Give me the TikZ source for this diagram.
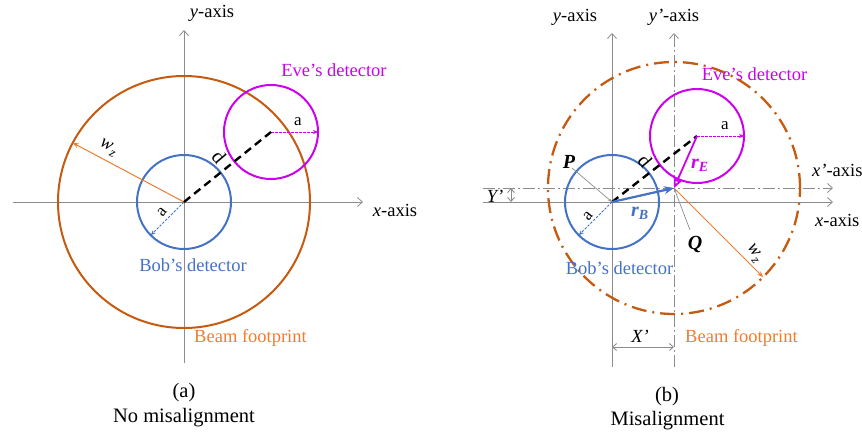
\documentclass[tikz,border=0pt]{standalone}
\usepackage{fontspec}
\setmainfont{Liberation Serif}
\usetikzlibrary{arrows.meta}
\definecolor{axgray}{RGB}{140,140,140}
\definecolor{beamc}{RGB}{197,90,17}
\definecolor{wzc}{RGB}{237,125,49}
\definecolor{bobc}{RGB}{68,114,196}
\definecolor{evec}{RGB}{204,0,238}
\newcommand{\wzlabel}{\textit{w}\kern0.5pt\raisebox{-4pt}{\fontsize{13}{14}\selectfont\textit{z}}}
\begin{document}
\begin{tikzpicture}[x=1pt,y=-1pt,
  lbl/.style={font=\fontsize{18.5}{20}\selectfont, inner sep=0pt},
  captxt/.style={font=\fontsize{20.5}{22}\selectfont, inner sep=0pt},
  sml/.style={font=\fontsize{17}{18}\selectfont, inner sep=0pt},
  bld/.style={font=\fontsize{20}{22}\selectfont\bfseries\itshape, inner sep=0pt},
  circ/.style={circle, draw, minimum size=#1, inner sep=0pt, outer sep=0pt, line width=2pt},
  axisline/.style={draw=axgray, line width=0.8pt, -{Straight Barb[length=5pt,width=9pt]}},
  axisdd/.style={axisline, dash pattern=on 12pt off 3pt on 2pt off 3pt},
  beamdd/.style={dash pattern=on 15pt off 6pt on 2pt off 6pt, line width=2.3pt},
  dline/.style={draw=black, line width=2.4pt, dash pattern=on 8pt off 5pt},
  aarrow/.style={line width=0.9pt, dash pattern=on 2.5pt off 1.5pt, -{Stealth[length=5pt,width=4pt]}},
  wzarrow/.style={draw=wzc, line width=1pt, -{Stealth[length=6pt,width=5pt]}},
  pointer/.style={draw=axgray, line width=0.7pt, -{Stealth[length=4pt,width=3pt]}},
  dimarrow/.style={draw=axgray, line width=0.9pt, {Straight Barb[length=4pt,width=7pt]}-{Straight Barb[length=4pt,width=7pt]}}
]
\useasboundingbox (0,0) rectangle (862,434);

% ================= (a) =================
\coordinate (O1) at (184,202);
\coordinate (E1c) at (271,132);
\coordinate (xl1) at (13,202);
\coordinate (xr1) at (363,202);
\coordinate (yb1) at (184,363);
\coordinate (yt1) at (184,30);
\draw[axisline] (xl1) -- (xr1);
\draw[axisline] (yb1) -- (yt1);

\node[circ=252pt, draw=beamc] (beam1) at (O1) {};
\node[circ=94pt, draw=bobc] (bob1) at (O1) {};
\node[circ=94pt, draw=evec] (eve1) at (E1c) {};

\draw[wzarrow] (O1) -- (beam1.152);
\draw[aarrow, draw=bobc] (O1) -- (bob1.225);
\draw[aarrow, draw=evec] (E1c) -- (eve1.east);
\draw[dline] (O1) -- (E1c);

\node[lbl] (ya) at (212,13) {\textit{y}-axis};
\node[lbl] (xa) at (395,210) {\textit{x}-axis};
\node[lbl, text=evec] (evt1) at (334,70) {Eve’s detector};
\node[lbl, text=bobc] (bobt1) at (193,265) {Bob’s detector};
\node[lbl, text=wzc] (beamt1) at (250.5,338) {Beam footprint};
\node[captxt] (capa) at (184,393) {(a)};
\node[captxt] (capa2) at (184,418) {No misalignment};
\node[lbl, rotate=-28] (wz1) at (108,148) {\wzlabel};
\node[lbl, rotate=-50, font=\fontsize{20}{22}\selectfont] (d1) at (219,157) {d};
\node[sml] (ae1) at (298,122) {a};
\node[sml, rotate=50] (ab1) at (162,212) {a};

% ================= (b) =================
\coordinate (O2) at (612,202);
\coordinate (Q) at (674,188);
\coordinate (E2c) at (697,136);
\coordinate (xl2) at (483,202);
\coordinate (xr2) at (833,202);
\coordinate (xpl2) at (483,188);
\coordinate (xpr2) at (833,188);
\coordinate (yb2) at (612,367);
\coordinate (yt2) at (612,33);
\coordinate (ypb2) at (674,367);
\coordinate (ypt2) at (674,33);
\draw[axisline] (xl2) -- (xr2);
\draw[axisdd] (xpl2) -- (xpr2);
\draw[axisline] (yb2) -- (yt2);
\draw[axisdd] (ypb2) -- (ypt2);

\node[circle, draw=beamc, beamdd, minimum size=252pt, inner sep=0pt, outer sep=0pt] (beam2) at (Q) {};
\node[circ=94pt, draw=bobc] (bob2) at (O2) {};
\node[circ=94pt, draw=evec] (eve2) at (E2c) {};

\draw[wzarrow] (Q) -- (beam2.-45);
\draw[aarrow, draw=bobc] (O2) -- (bob2.225);
\draw[aarrow, draw=evec] (E2c) -- (eve2.east);
\draw[dline] (O2) -- (E2c);
\draw[draw=bobc, line width=2.2pt, -{Stealth[length=10pt,width=8pt]}] (O2) -- (Q);
\draw[draw=evec, line width=1.8pt, -{Triangle[open,length=9pt,width=8pt]}] (E2c) -- (Q);

% pointers and dimensions
\coordinate (Pp) at (572,168);
\coordinate (Qp) at (690,230);
\draw[pointer] (Pp) -- (O2);
\draw[pointer] (Qp) -- (Q);
\coordinate (Yt) at (511,188);
\coordinate (Yb) at (511,202);
\draw[dimarrow] (Yt) -- (Yb);
\coordinate (Xl) at (612,347);
\coordinate (Xr) at (674,347);
\draw[dimarrow] (Xl) -- (Xr);

\node[lbl] (ya2) at (575,17) {\textit{y}-axis};
\node[lbl] (ypa2) at (674,17) {\textit{y’}-axis};
\node[lbl, anchor=west] (xpa2) at (812,170) {\textit{x’}-axis};
\node[lbl, anchor=west] (xa2) at (815,220) {\textit{x}-axis};
\node[lbl, text=evec] (evt2) at (754.5,74) {Eve’s detector};
\node[lbl, text=bobc] (bobt2) at (619.5,268) {Bob’s detector};
\node[lbl, text=wzc] (beamt2) at (741.5,338) {Beam footprint};
\node[captxt] (capb) at (667,397) {(b)};
\node[captxt] (capb2) at (667.5,421) {Misalignment};
\node[bld] (Plab) at (569,162) {P};
\node[bld] (Qlab) at (695,244) {Q};
\node[bld, text=bobc] (rB) at (640,213) {r\textsubscript{B}};
\node[bld, text=evec] (rE) at (700,165) {r\textsubscript{E}};
\node[sml] (ae2) at (725,126) {a};
\node[sml, rotate=50] (ab2) at (588,216) {a};
\node[lbl, rotate=-50, font=\fontsize{20}{22}\selectfont] (d2) at (645,161) {d};
\node[lbl, rotate=-55] (wz2) at (754,254) {\wzlabel};
\node[lbl] (Ylab) at (495,196) {\textit{Y’}};
\node[lbl] (Xlab) at (640,336) {\textit{X’}};
\end{tikzpicture}
\end{document}
